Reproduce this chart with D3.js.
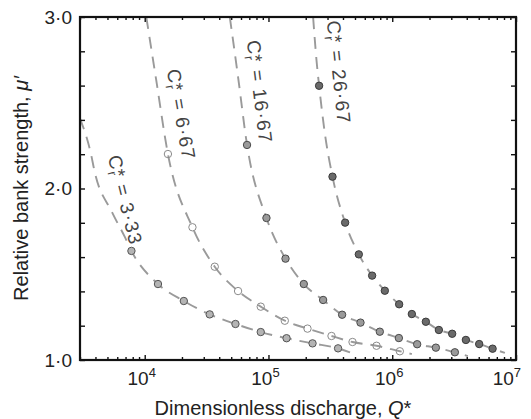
<html>
<head>
	<meta http-equiv="Content-Type" content="text/html; charset=utf-8" />
	<script src="https://cdn.jsdelivr.net/npm/d3@7/dist/d3.min.js" charset="utf-8"></script>
	<style type="text/css">
	body { margin: 0; background-color: #fff; }
	svg text { font-family: "Liberation Sans", Arial, sans-serif; }
	.axis path { display: none; }
	.axis line { stroke: #111; stroke-width: 1.4; }
	</style>
</head>
<body>
	<svg width="531" height="419" version="1.1" xmlns="http://www.w3.org/2000/svg"></svg>

	<script type="text/javascript">
		// 数据点  C_r* = 3·33 / 6·67 / 16·67 / 26·67
		var v_Q_333   = [7810 ,12800 ,20700 ,33500 ,54100 ,86600 ,140000 ,227000 ,365000];
		var v_Mu_333  = [1.636 ,1.443 ,1.344 ,1.266 ,1.210 ,1.163 ,1.127 ,1.097 ,1.068];
		var v_Q_667   = [15400 ,24300 ,36800 ,56800 ,86600 ,135500 ,206700 ,323000 ,477600 ,746600 ,1152000];
		var v_Mu_667  = [2.201 ,1.774 ,1.544 ,1.402 ,1.311 ,1.229 ,1.183 ,1.140 ,1.105 ,1.083 ,1.051];
		var v_Q_1667  = [67100 ,96300 ,137300 ,192900 ,276400 ,393600 ,554000 ,793600 ,1131000 ,1590000 ,2252000 ,3207000];
		var v_Mu_1667 = [2.254 ,1.828 ,1.591 ,1.443 ,1.350 ,1.264 ,1.218 ,1.165 ,1.128 ,1.092 ,1.072 ,1.045];
		var v_Q_2667  = [256500 ,329100 ,416300 ,537000 ,687900 ,871200 ,1137000 ,1440000 ,1869000 ,2381000 ,3050000 ,3936000 ,5041000 ,6470000];
		var v_Mu_2667 = [2.599 ,2.069 ,1.801 ,1.616 ,1.492 ,1.404 ,1.325 ,1.268 ,1.223 ,1.175 ,1.153 ,1.117 ,1.093 ,1.066];

		// 拟合曲线（虚线）上读取的点
		var v_LineQ_333   = [2990 ,3680 ,3940 ,5400 ,6890 ,7810 ,12800 ,20700 ,33500 ,54100 ,86600 ,140000 ,227000 ,365000 ,514000];
		var v_LineMu_333  = [2.411 ,2.201 ,2.098 ,1.867 ,1.719 ,1.636 ,1.443 ,1.344 ,1.266 ,1.210 ,1.163 ,1.127 ,1.097 ,1.068 ,1.030];
		var v_LineQ_667   = [10300 ,12400 ,15400 ,24300 ,36800 ,56800 ,86600 ,135500 ,206700 ,323000 ,477600 ,746600 ,1152000 ,1440000];
		var v_LineMu_667  = [3.0 ,2.63 ,2.201 ,1.774 ,1.544 ,1.402 ,1.311 ,1.229 ,1.183 ,1.140 ,1.105 ,1.083 ,1.051 ,1.035];
		var v_LineQ_1667  = [48700 ,56800 ,67100 ,96300 ,137300 ,192900 ,276400 ,393600 ,554000 ,793600 ,1131000 ,1590000 ,2252000 ,3207000 ,4086000];
		var v_LineMu_1667 = [3.0 ,2.65 ,2.254 ,1.828 ,1.591 ,1.443 ,1.350 ,1.264 ,1.218 ,1.165 ,1.128 ,1.092 ,1.072 ,1.045 ,1.023];
		var v_LineQ_2667  = [229400 ,244300 ,256500 ,285200 ,329100 ,416300 ,537000 ,687900 ,871200 ,1137000 ,1440000 ,1869000 ,2381000 ,3050000 ,3936000 ,5041000 ,6470000 ,8130000];
		var v_LineMu_2667 = [3.0 ,2.749 ,2.599 ,2.324 ,2.069 ,1.801 ,1.616 ,1.492 ,1.404 ,1.325 ,1.268 ,1.223 ,1.175 ,1.153 ,1.117 ,1.093 ,1.066 ,1.041];

		var v_SeriesNames = ["3·33" ,"6·67" ,"16·67" ,"26·67"];
		var v_XTicks      = [1e4 ,1e5 ,1e6 ,1e7];
		var v_XTickExp    = ["4" ,"5" ,"6" ,"7"];
		var v_YTicks      = [1 ,2 ,3];
		var v_YTickLabels = ["1·0" ,"2·0" ,"3·0"];


		var v_Width   = 531;
		var v_Height  = 419;
		var v_Padding = {top:17 ,right:15 ,bottom:59 ,left:80};
		var v_SVG     = d3.select("svg");

		var v_xScale = d3.scaleLog()
		                 .domain([3000 ,1e7])
		                 .range([v_Padding.left ,v_Width - v_Padding.right]);
		var v_yScale = d3.scaleLinear()
		                 .domain([1 ,3])
		                 .range([v_Height - v_Padding.bottom ,v_Padding.top]);

		var v_Left   = v_xScale.range()[0];
		var v_Right  = v_xScale.range()[1];
		var v_Top    = v_yScale.range()[1];
		var v_Bottom = v_yScale.range()[0];


		function f_Zip(i_Q ,i_Mu)
		{
			return i_Q.map(function(d ,i) { return {q:d ,mu:i_Mu[i]}; });
		}

		var v_Series = [
			{name:v_SeriesNames[0] ,pts:f_Zip(v_Q_333 ,v_Mu_333)   ,line:f_Zip(v_LineQ_333 ,v_LineMu_333)   ,fill:"#b4b4b4" ,stroke:"#555"},
			{name:v_SeriesNames[1] ,pts:f_Zip(v_Q_667 ,v_Mu_667)   ,line:f_Zip(v_LineQ_667 ,v_LineMu_667)   ,fill:"none"    ,stroke:"#8a8a8a"},
			{name:v_SeriesNames[2] ,pts:f_Zip(v_Q_1667 ,v_Mu_1667) ,line:f_Zip(v_LineQ_1667 ,v_LineMu_1667) ,fill:"#9a9a9a" ,stroke:"#4a4a4a"},
			{name:v_SeriesNames[3] ,pts:f_Zip(v_Q_2667 ,v_Mu_2667) ,line:f_Zip(v_LineQ_2667 ,v_LineMu_2667) ,fill:"#6a6a6a" ,stroke:"#3a3a3a"}
		];

		// 标注位置（数据坐标）和旋转角度
		var v_Labels = [
			{q:5020   ,mu:2.184 ,angle:76},
			{q:15060  ,mu:2.690 ,angle:80},
			{q:66750  ,mu:2.860 ,angle:83},
			{q:296000 ,mu:2.975 ,angle:84}
		];


		v_SVG.append("clipPath").attr("id" ,"plotClip")
		     .append("rect")
		     .attr("x" ,v_Left).attr("y" ,v_Top)
		     .attr("width" ,v_Right - v_Left).attr("height" ,v_Bottom - v_Top);


		// 虚线
		var v_Line = d3.line()
		               .x(function(d) { return v_xScale(d.q); })
		               .y(function(d) { return v_yScale(d.mu); })
		               .curve(d3.curveMonotoneX);

		v_SVG.append("g").attr("clip-path" ,"url(#plotClip)")
		     .selectAll("path").data(v_Series).enter()
		     .append("path")
		     .attr("d" ,function(d) { return v_Line(d.line); })
		     .attr("fill" ,"none")
		     .attr("stroke" ,"#9a9a9a")
		     .attr("stroke-width" ,1.9)
		     .attr("stroke-dasharray" ,"12,8");


		// 数据点
		v_Series.forEach(function(s)
		{
			v_SVG.append("g")
			     .selectAll("circle").data(s.pts).enter()
			     .append("circle")
			     .attr("cx" ,function(d) { return v_xScale(d.q); })
			     .attr("cy" ,function(d) { return v_yScale(d.mu); })
			     .attr("r" ,3.7)
			     .attr("fill" ,s.fill)
			     .attr("stroke" ,s.stroke)
			     .attr("stroke-width" ,1);
		});


		// 曲线标注 C_r* = ...
		v_Series.forEach(function(s ,i)
		{
			var v_Lab = v_Labels[i];
			var v_T = v_SVG.append("text")
			               .attr("transform" ,"translate(" + v_xScale(v_Lab.q) + "," + v_yScale(v_Lab.mu) + ") rotate(" + v_Lab.angle + ")")
			               .attr("font-size" ,"19px")
			               .attr("letter-spacing" ,"1.3px")
			               .attr("fill" ,"#444");
			v_T.append("tspan").text("C");
			v_T.append("tspan").attr("font-size" ,"13px").attr("dy" ,4).text("r");
			v_T.append("tspan").attr("dx" ,-6).attr("dy" ,-4).text("*");
			v_T.append("tspan").text(" = " + s.name);
		});


		// 坐标轴刻度（向内）
		var v_Minor = [];
		for (var e = 3; e < 7; e++)
		{
			for (var m = 2; m < 10; m++)
			{
				var v = m * Math.pow(10 ,e);
				if ( v >= 3000 && v <= 1e7 ) v_Minor.push(v);
			}
		}

		v_SVG.append("g").attr("class" ,"axis")
		     .attr("transform" ,"translate(0," + v_Bottom + ")")
		     .call(d3.axisBottom(v_xScale).tickValues(v_Minor).tickSize(-3).tickFormat(""));
		v_SVG.append("g").attr("class" ,"axis")
		     .attr("transform" ,"translate(0," + v_Bottom + ")")
		     .call(d3.axisBottom(v_xScale).tickValues(v_XTicks).tickSize(-5).tickFormat(""));
		v_SVG.append("g").attr("class" ,"axis")
		     .attr("transform" ,"translate(0," + v_Top + ")")
		     .call(d3.axisTop(v_xScale).tickValues(v_Minor).tickSize(-3).tickFormat(""));
		v_SVG.append("g").attr("class" ,"axis")
		     .attr("transform" ,"translate(0," + v_Top + ")")
		     .call(d3.axisTop(v_xScale).tickValues(v_XTicks).tickSize(-5).tickFormat(""));

		var v_YTickAll = d3.range(0 ,11).map(function(i) { return 1 + i * 0.2; });
		v_SVG.append("g").attr("class" ,"axis")
		     .attr("transform" ,"translate(" + v_Left + ",0)")
		     .call(d3.axisLeft(v_yScale).tickValues(v_YTickAll).tickSize(-5).tickFormat(""));
		v_SVG.append("g").attr("class" ,"axis")
		     .attr("transform" ,"translate(" + v_Right + ",0)")
		     .call(d3.axisRight(v_yScale).tickValues(v_YTickAll).tickSize(-5).tickFormat(""));

		// 边框
		v_SVG.append("rect")
		     .attr("x" ,v_Left).attr("y" ,v_Top)
		     .attr("width" ,v_Right - v_Left).attr("height" ,v_Bottom - v_Top)
		     .attr("fill" ,"none")
		     .attr("stroke" ,"#111")
		     .attr("stroke-width" ,2.2);


		// x轴标签 10^n
		v_XTicks.forEach(function(d ,i)
		{
			var v_Last = (i == v_XTicks.length - 1);
			var v_T = v_SVG.append("text")
			               .attr("x" ,v_xScale(d) + (v_Last ? 5 : -3))
			               .attr("y" ,v_Bottom + 25)
			               .attr("text-anchor" ,v_Last ? "end" : "middle")
			               .attr("font-size" ,"19px")
			               .attr("fill" ,"#222");
			v_T.append("tspan").text("10");
			v_T.append("tspan").attr("font-size" ,"13px").attr("dy" ,-8).text(v_XTickExp[i]);
		});

		// y轴标签
		v_SVG.selectAll(".ylab").data(v_YTicks).enter()
		     .append("text")
		     .attr("class" ,"ylab")
		     .attr("x" ,v_Left - 8)
		     .attr("y" ,function(d) { return v_yScale(d); })
		     .attr("dy" ,"0.35em")
		     .attr("text-anchor" ,"end")
		     .attr("font-size" ,"19px")
		     .attr("fill" ,"#222")
		     .text(function(d ,i) { return v_YTickLabels[i]; });


		// 轴标题
		var v_XTitle = v_SVG.append("text")
		                    .attr("x" ,(v_Left + v_Right) / 2 - 15)
		                    .attr("y" ,v_Height - 4)
		                    .attr("text-anchor" ,"middle")
		                    .attr("font-size" ,"20px")
		                    .attr("fill" ,"#222");
		v_XTitle.append("tspan").text("Dimensionless discharge, ");
		v_XTitle.append("tspan").attr("font-style" ,"italic").text("Q");
		v_XTitle.append("tspan").text("*");

		var v_YTitle = v_SVG.append("text")
		                    .attr("transform" ,"translate(28," + ((v_Top + v_Bottom) / 2) + ") rotate(-90)")
		                    .attr("text-anchor" ,"middle")
		                    .attr("font-size" ,"20px")
		                    .attr("fill" ,"#222");
		v_YTitle.append("tspan").text("Relative bank strength, ");
		v_YTitle.append("tspan").attr("font-style" ,"italic").text("μ′");
	</script>
</body>
</html>
